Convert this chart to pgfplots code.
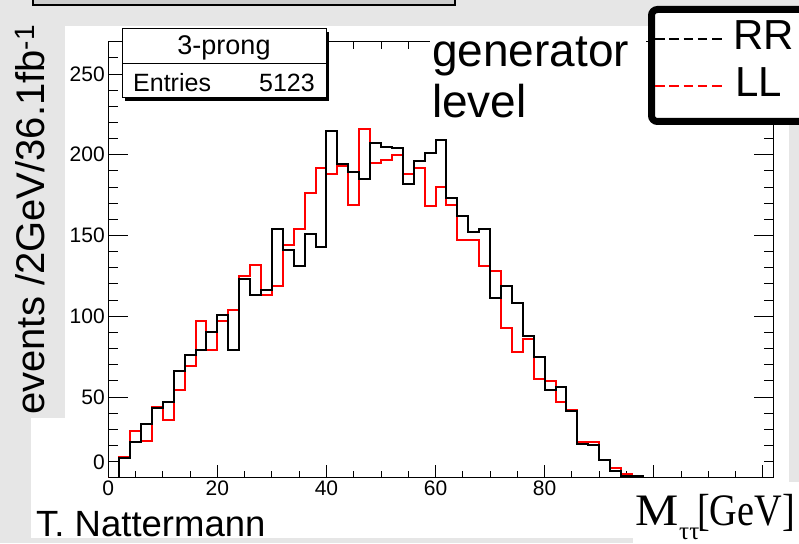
\documentclass[border=0pt]{standalone}
\usepackage{pgfplots}
\pgfplotsset{compat=1.18}
\usepackage{fontspec}
\setmainfont{Liberation Sans}
\newfontfamily\seriffont{Liberation Serif}
\definecolor{bggray}{RGB}{230,230,230}
\definecolor{boxgray}{RGB}{205,205,205}
\definecolor{rootred}{RGB}{255,0,0}
\newcommand{\fs}[1]{\fontsize{#1}{#1}\selectfont}

\begin{document}
\begin{tikzpicture}[x=1pt,y=1pt]
\fill[bggray] (0,0) rectangle (799,543);
\fill[white] (65,5) rectangle (789,517);
\fill[white] (31,5) rectangle (65,125);
\fill[white] (633,0) rectangle (799,61);
% cut-off title box at the top
\draw[line width=2pt, fill=boxgray] (33,538) rectangle (455,580);
\node[anchor=base west, inner sep=0, font=\fs{47}] at (51,553) {3-prong (truth level)};

\begin{axis}[
  at={(108.3pt,65.3pt)}, anchor=south west, scale only axis,
  width=665.4pt, height=436pt,
  xmin=0, xmax=122, ymin=0, ymax=270,
  xtick={0,20,40,60,80,100,120},
  xticklabels={0,20,40,60,80,{},{}},
  minor xtick={5,10,...,120},
  ytick={50,100,150,200,250},
  minor ytick={10,20,...,260},
  extra y ticks={0},
  extra y tick labels={0},
  extra y tick style={yticklabel style={yshift=15pt}},
  tick align=inside,
  axis line style={black, line width=1pt},
  every tick/.style={black, line width=0.9pt},
  xtick style={/pgfplots/major tick length=13pt,/pgfplots/minor tick length=7pt},
  ytick style={/pgfplots/major tick length=20pt,/pgfplots/minor tick length=10pt},
  ticklabel style={font=\fs{21}},
  /pgf/number format/assume math mode=true,
]
\addplot[rootred, line width=2pt, const plot] coordinates {
(0,0) (2,13) (4,29) (6,23) (8,44) (10,36) (12,54) (14,69) (16,97) (18,79)
(20,97) (22,104) (24,125) (26,132) (28,113) (30,119) (32,144) (34,154) (36,176) (38,192)
(40,188) (42,193) (44,169) (46,216) (48,195) (50,197) (52,200) (54,188) (56,192) (58,168)
(60,180) (62,169) (64,147) (66,147) (68,131) (70,128) (72,93) (74,78) (76,86) (78,61)
(80,60) (82,47) (84,42) (86,22) (88,22) (90,11) (92,6) (94,2) (96,1) (98,0)};
\addplot[black, line width=2pt, const plot] coordinates {
(0,0) (2,12) (4,22) (6,33) (8,43) (10,47) (12,66) (14,76) (16,79) (18,90)
(20,101) (22,79) (24,123) (26,113) (28,116) (30,154) (32,141) (34,131) (36,151) (38,143)
(40,215) (42,194) (44,189) (46,185) (48,207) (50,205) (52,204) (54,182) (56,196) (58,201)
(60,209) (62,173) (64,162) (66,152) (68,154) (70,111) (72,119) (74,108) (76,88) (78,75)
(80,54) (82,56) (84,41) (86,21) (88,20) (90,11) (92,4) (94,1) (96,1) (98,0)};
\end{axis}

% stats box
\fill[black] (125,442) rectangle (329,511);
\draw[fill=white, line width=1pt] (122,445) rectangle (326,514);
\draw[line width=0.8pt] (122,480) -- (326,480);
\node[anchor=base, inner sep=0, font=\fs{27}] at (224,488) {3-prong};
\node[anchor=base west, inner sep=0, font=\fs{25}] at (133,451) {Entries};
\node[anchor=base east, inner sep=0, font=\fs{25}] at (315,451) {5123};

% generator level
\fill[white] (430,415) rectangle (646,517);
\node[anchor=base west, inner sep=0, font=\fs{46}] at (432,476) {generator};
\node[anchor=base west, inner sep=0, font=\fs{46}] at (432,425) {level};

% legend
\draw[line width=7pt, rounded corners=6pt, fill=white] (651.5,421.5) rectangle (840,533.5);
\draw[black, line width=2.7pt, dash pattern=on 9.5pt off 4.8pt] (655,504) -- (722,504);
\draw[rootred, line width=2.7pt, dash pattern=on 9.5pt off 4.8pt] (655,457) -- (722,457);
\node[anchor=base west, inner sep=0, font=\fs{42}] at (733,493) {RR};
\node[anchor=base west, inner sep=0, font=\fs{42}] at (735,446) {LL};

% y label
\node[rotate=90, anchor=base west, inner sep=0, font=\fs{40}] at (44,128) {events /2GeV/36.1fb\textsuperscript{-1}};

% author
\node[anchor=base west, inner sep=0, font=\fs{36.5}] at (36,7) {T. Nattermann};

% x label
\node[anchor=base west, inner sep=0, font=\seriffont\fs{45}] at (635,18) {\scalebox{1.08}[1]{M}};
\node[anchor=base west, inner sep=0, font=\seriffont\fs{25}] at (679,4) {ττ};
\node[anchor=base east, inner sep=0, font=\seriffont\fs{45}] at (795,18) {\scalebox{0.85}[1]{[GeV]}};

\pgfresetboundingbox
\useasboundingbox (0,0) rectangle (799,543);
\end{tikzpicture}
\end{document}
